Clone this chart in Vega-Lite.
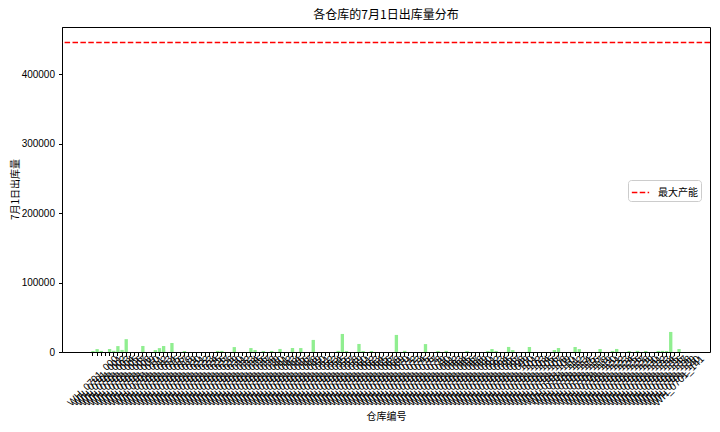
{
  "$schema": "https://vega.github.io/schema/vega-lite/v6.json",
  "autosize": {"type": "none"},
  "width": 648,
  "height": 325,
  "padding": {"left": 62, "top": 27, "right": 10, "bottom": 80},
  "background": "white",
  "title": {"text": "各仓库的7月1日出库量分布", "font": "Noto Sans CJK SC", "fontSize": 12, "fontWeight": "normal", "color": "black", "offset": 5},
  "config": {
    "view": {"stroke": "black", "strokeWidth": 1},
    "axis": {"domainColor": "black", "tickColor": "black", "tickSize": 3.5, "labelColor": "black", "titleColor": "black", "labelFont": "Liberation Sans", "titleFont": "Noto Sans CJK SC", "titleFontWeight": "normal", "titleFontSize": 10, "labelFontSize": 10, "grid": false}
  },
  "datasets": {
    "wh": [
      {"w":"WH_0701_000","v":1500},{"w":"WH_0701_001","v":4200},{"w":"WH_0701_002","v":1600},{"w":"WH_0701_003","v":0},{"w":"WH_0701_004","v":4300},{"w":"WH_0701_005","v":1700},{"w":"WH_0701_006","v":8500},{"w":"WH_0701_007","v":3000},{"w":"WH_0701_008","v":18500},{"w":"WH_0701_009","v":0},
      {"w":"WH_0701_010","v":0},{"w":"WH_0701_011","v":0},{"w":"WH_0701_012","v":8700},{"w":"WH_0701_013","v":0},{"w":"WH_0701_014","v":0},{"w":"WH_0701_015","v":2800},{"w":"WH_0701_016","v":5600},{"w":"WH_0701_017","v":8600},{"w":"WH_0701_018","v":0},{"w":"WH_0701_019","v":13000},
      {"w":"WH_0701_020","v":0},{"w":"WH_0701_021","v":0},{"w":"WH_0701_022","v":1400},{"w":"WH_0701_023","v":0},{"w":"WH_0701_024","v":0},{"w":"WH_0701_025","v":0},{"w":"WH_0701_026","v":0},{"w":"WH_0701_027","v":0},{"w":"WH_0701_028","v":0},{"w":"WH_0701_029","v":0},
      {"w":"WH_0701_030","v":1500},{"w":"WH_0701_031","v":1600},{"w":"WH_0701_032","v":0},{"w":"WH_0701_033","v":0},{"w":"WH_0701_034","v":7100},{"w":"WH_0701_035","v":0},{"w":"WH_0701_036","v":0},{"w":"WH_0701_037","v":0},{"w":"WH_0701_038","v":5700},{"w":"WH_0701_039","v":2900},
      {"w":"WH_0701_040","v":0},{"w":"WH_0701_041","v":1300},{"w":"WH_0701_042","v":0},{"w":"WH_0701_043","v":1500},{"w":"WH_0701_044","v":0},{"w":"WH_0701_045","v":4400},{"w":"WH_0701_046","v":0},{"w":"WH_0701_047","v":0},{"w":"WH_0701_048","v":5800},{"w":"WH_0701_049","v":0},
      {"w":"WH_0701_050","v":5700},{"w":"WH_0701_051","v":0},{"w":"WH_0701_052","v":0},{"w":"WH_0701_053","v":17400},{"w":"WH_0701_054","v":0},{"w":"WH_0701_055","v":0},{"w":"WH_0701_056","v":0},{"w":"WH_0701_057","v":0},{"w":"WH_0701_058","v":0},{"w":"WH_0701_059","v":1600},
      {"w":"WH_0701_060","v":26000},{"w":"WH_0701_061","v":1500},{"w":"WH_0701_062","v":0},{"w":"WH_0701_063","v":0},{"w":"WH_0701_064","v":11600},{"w":"WH_0701_065","v":1400},{"w":"WH_0701_066","v":0},{"w":"WH_0701_067","v":1500},{"w":"WH_0701_068","v":0},{"w":"WH_0701_069","v":0},
      {"w":"WH_0701_070","v":0},{"w":"WH_0701_071","v":0},{"w":"WH_0701_072","v":0},{"w":"WH_0701_073","v":24600},{"w":"WH_0701_074","v":0},{"w":"WH_0701_075","v":1700},{"w":"WH_0701_076","v":0},{"w":"WH_0701_077","v":0},{"w":"WH_0701_078","v":0},{"w":"WH_0701_079","v":0},
      {"w":"WH_0701_080","v":11400},{"w":"WH_0701_081","v":0},{"w":"WH_0701_082","v":0},{"w":"WH_0701_083","v":1500},{"w":"WH_0701_084","v":0},{"w":"WH_0701_085","v":1600},{"w":"WH_0701_086","v":0},{"w":"WH_0701_087","v":0},{"w":"WH_0701_088","v":0},{"w":"WH_0701_089","v":0},
      {"w":"WH_0701_090","v":1400},{"w":"WH_0701_091","v":0},{"w":"WH_0701_092","v":0},{"w":"WH_0701_093","v":0},{"w":"WH_0701_094","v":0},{"w":"WH_0701_095","v":1500},{"w":"WH_0701_096","v":4300},{"w":"WH_0701_097","v":1500},{"w":"WH_0701_098","v":0},{"w":"WH_0701_099","v":0},
      {"w":"WH_0701_100","v":7300},{"w":"WH_0701_101","v":2800},{"w":"WH_0701_102","v":0},{"w":"WH_0701_103","v":0},{"w":"WH_0701_104","v":0},{"w":"WH_0701_105","v":7200},{"w":"WH_0701_106","v":0},{"w":"WH_0701_107","v":0},{"w":"WH_0701_108","v":0},{"w":"WH_0701_109","v":0},
      {"w":"WH_0701_110","v":0},{"w":"WH_0701_111","v":2900},{"w":"WH_0701_112","v":5800},{"w":"WH_0701_113","v":0},{"w":"WH_0701_114","v":0},{"w":"WH_0701_115","v":0},{"w":"WH_0701_116","v":7300},{"w":"WH_0701_117","v":4200},{"w":"WH_0701_118","v":0},{"w":"WH_0701_119","v":0},
      {"w":"WH_0701_120","v":0},{"w":"WH_0701_121","v":0},{"w":"WH_0701_122","v":4300},{"w":"WH_0701_123","v":0},{"w":"WH_0701_124","v":0},{"w":"WH_0701_125","v":1500},{"w":"WH_0701_126","v":4400},{"w":"WH_0701_127","v":0},{"w":"WH_0701_128","v":0},{"w":"WH_0701_129","v":1400},
      {"w":"WH_0701_130","v":0},{"w":"WH_0701_131","v":1600},{"w":"WH_0701_132","v":0},{"w":"WH_0701_133","v":1500},{"w":"WH_0701_134","v":0},{"w":"WH_0701_135","v":0},{"w":"WH_0701_136","v":1500},{"w":"WH_0701_137","v":1600},{"w":"WH_0701_138","v":1400},{"w":"WH_0701_139","v":28900},
      {"w":"WH_0701_140","v":0},{"w":"WH_0701_141","v":4300}
    ],
    "cap": [{"k": "最大产能", "cap": 446000}]
  },
  "layer": [
    {
      "data": {"name": "wh"},
      "mark": {"type": "bar", "color": "#90EE90"},
      "encoding": {
        "x": {"field": "w", "type": "nominal", "sort": null, "scale": {"paddingInner": 0.2, "paddingOuter": 0, "range": [29.3, 618.7]},
              "axis": {"title": "仓库编号", "labelAngle": -45, "labelAlign": "center", "labelBaseline": "middle", "labelFontSize": 10, "labelOverlap": false, "labelPadding": 25, "titleY": 64, "titleBaseline": "middle"}},
        "y": {"field": "v", "type": "quantitative", "scale": {"domain": [0, 468300], "nice": false},
              "axis": {"title": "7月1日出库量", "values": [0, 100000, 200000, 300000, 400000], "format": "d", "labelPadding": 4, "titleX": -47, "titleY": 162, "titleBaseline": "middle", "titleAlign": "center"}}
      }
    },
    {
      "data": {"name": "cap"},
      "mark": {"type": "rule", "strokeDash": [5.5, 2.4], "strokeWidth": 1.5},
      "encoding": {
        "y": {"field": "cap", "type": "quantitative"},
        "color": {"field": "k", "type": "nominal", "scale": {"range": ["#ff0000"]},
                  "legend": {"title": null, "orient": "none", "legendX": 566, "legendY": 153, "symbolType": "stroke", "symbolDash": [5.5, 2.4], "symbolStrokeWidth": 1.5, "symbolSize": 300, "labelFont": "Noto Sans CJK SC", "labelFontSize": 10, "labelColor": "black", "padding": 3, "strokeColor": "#cccccc", "fillColor": "white", "cornerRadius": 3, "labelOffset": 8}}
      }
    }
  ]
}
